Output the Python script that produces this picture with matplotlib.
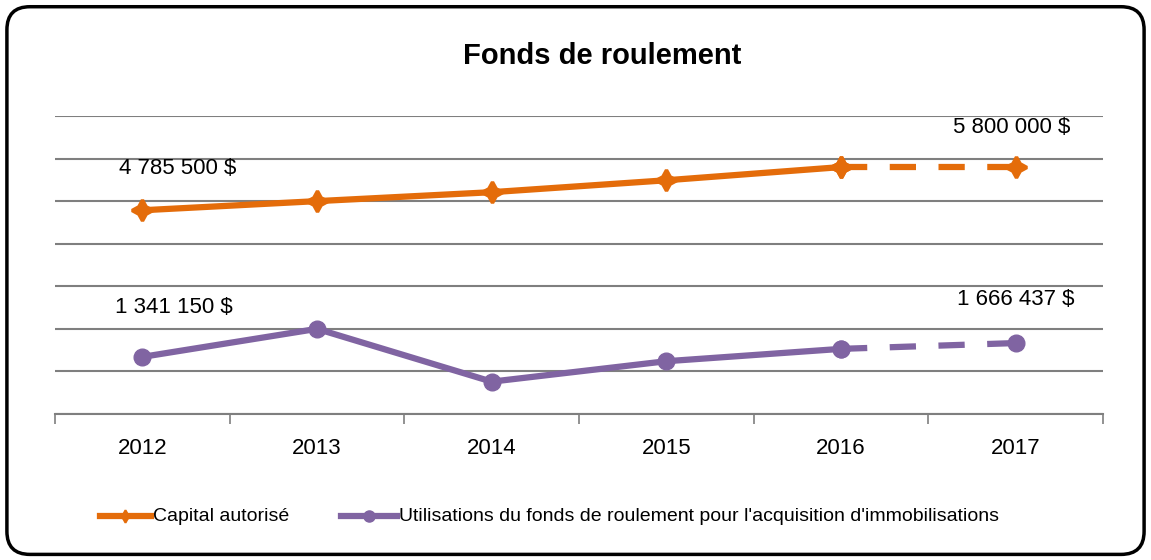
import numpy as np
import matplotlib.pyplot as plt
from matplotlib.patches import FancyBboxPatch

plt.rcParams['font.family'] = ['Liberation Sans', 'DejaVu Sans']

# data
years = ['2012', '2013', '2014', '2015', '2016', '2017']
capital = [4785500, 5000000, 5210000, 5490000, 5800000, 5800000]
utilisations = [1341150, 2000000, 760000, 1240000, 1530000, 1666437]
capital_labels = ['4 785 500 $', '5 800 000 $']
util_labels = ['1 341 150 $', '1 666 437 $']

orange = '#E46C0A'
purple = '#8064A2'
dash = (0, (4.2, 3.6))

fig = plt.figure(figsize=(11.51, 5.6), dpi=100)

# rounded frame around the whole chart
frame = FancyBboxPatch((0.006, 0.01), 0.988, 0.978, boxstyle='round,pad=0,rounding_size=0.02',
                       transform=fig.transFigure, facecolor='none', edgecolor='black',
                       linewidth=2.5, mutation_aspect=1151 / 560, zorder=5)
fig.patches.append(frame)

ax = fig.add_axes([0.0478, 0.2607, 0.9105, 0.5322])
ax.set_facecolor('none')
x = np.arange(len(years))

# solid part up to 2016, dashed for 2017
star = dict(marker=(4, 1, 0), ms=15, mew=2.5)
dot = dict(marker='o', ms=12)
ax.plot(x[:5], capital[:5], color=orange, lw=4.5, zorder=3, **star)
ax.plot(x[4:], capital[4:], color=orange, lw=4.5, ls=dash, zorder=3, **star)
ax.plot(x[:5], utilisations[:5], color=purple, lw=4.5, zorder=3, **dot)
ax.plot(x[4:], utilisations[4:], color=purple, lw=4.5, ls=dash, zorder=3, **dot)

ax.set_xlim(-0.5, 5.5)
ax.set_ylim(0, 7000000)
ax.set_yticks(np.arange(0, 7000001, 1000000))
ax.yaxis.grid(True, color='#7f7f7f', lw=1.5)
ax.set_axisbelow(True)
ax.tick_params(axis='y', left=False, labelleft=False)
for s in ['top', 'right', 'left']:
    ax.spines[s].set_visible(False)
ax.spines['bottom'].set_color('#7f7f7f')
ax.spines['bottom'].set_linewidth(1.5)

ax.set_xticks(x)
ax.set_xticklabels(years, fontsize=16)
ax.tick_params(axis='x', length=0, pad=17)
ax.set_xticks(np.arange(-0.5, 6, 1), minor=True)
ax.tick_params(axis='x', which='minor', length=7, color='#7f7f7f', width=1.2)

# value labels at first and last point
ax.text(0.2, 5770000, capital_labels[0], fontsize=16, ha='center', va='center')
ax.text(4.98, 6720000, capital_labels[1], fontsize=16, ha='center', va='center')
ax.text(0.18, 2500000, util_labels[0], fontsize=16, ha='center', va='center')
ax.text(5.0, 2700000, util_labels[1], fontsize=16, ha='center', va='center')

fig.text(0.523, 0.9, 'Fonds de roulement', fontsize=21, fontweight='heavy', ha='center', va='center')

# legend drawn by hand at the bottom
ly = 0.078
fig.add_artist(plt.Line2D([0.087, 0.109, 0.131], [ly, ly, ly], color=orange, lw=4.5,
                          marker=(4, 1, 0), ms=9, mew=1.5, markevery=[1], transform=fig.transFigure))
fig.text(0.133, ly, 'Capital autorisé', fontsize=14, va='center')
fig.add_artist(plt.Line2D([0.296, 0.3205, 0.345], [ly, ly, ly], color=purple, lw=4.5,
                          marker='o', ms=8, markevery=[1], transform=fig.transFigure))
fig.text(0.347, ly, "Utilisations du fonds de roulement pour l'acquisition d'immobilisations",
         fontsize=14, va='center')

fig.savefig('out.png', dpi=100)
